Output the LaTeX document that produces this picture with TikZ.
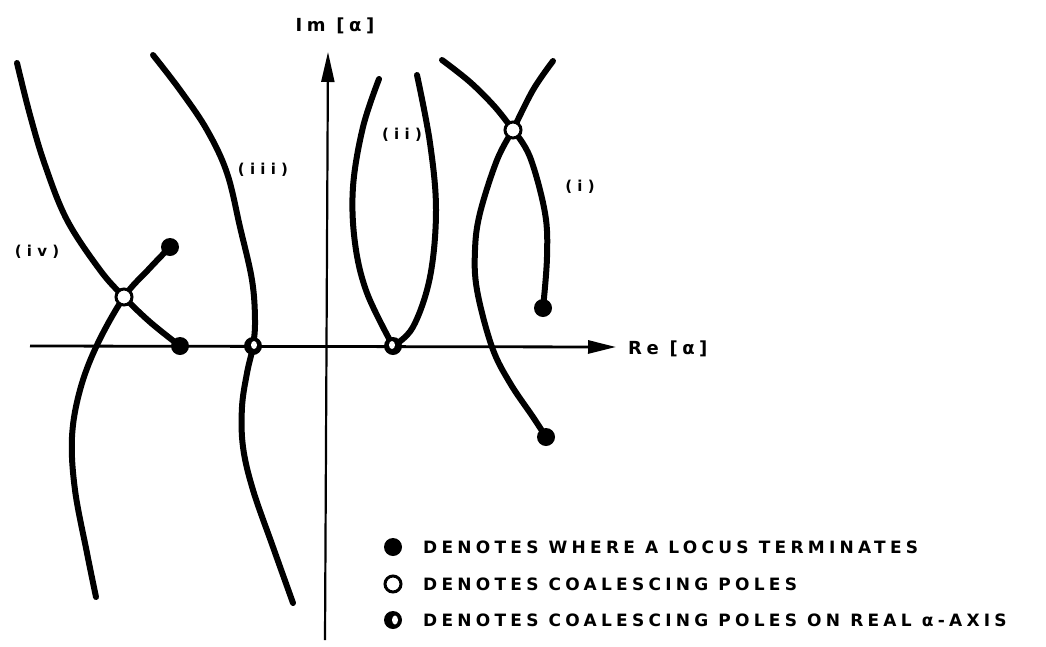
\documentclass[tikz,border=0pt]{standalone}
\usepackage{fontspec}
\setmainfont{DejaVu Sans}
\newfontfamily\lblfont{DejaVu Sans}[LetterSpace=25]
\newfontfamily\romfont{DejaVu Sans}[LetterSpace=35]
\usetikzlibrary{arrows.meta}
\begin{document}
\begin{tikzpicture}[x=1pt,y=-1pt,
  curve/.style={line width=6pt, line cap=round, line join=round},
  axisline/.style={line width=2.8pt},
  termdot/.style={circle, fill=black, inner sep=0pt, minimum size=18pt},
  coaldot/.style={circle, draw=black, line width=3pt, fill=white, inner sep=0pt, minimum width=16pt, minimum height=14pt},
  legtext/.style={anchor=west, inner sep=0pt, font=\lblfont\bfseries\fontsize{17}{20}\selectfont},
  romlabel/.style={inner sep=0pt, font=\romfont\bfseries\fontsize{15}{18}\selectfont},
  axlabel/.style={inner sep=0pt, font=\lblfont\bfseries\fontsize{18}{21}\selectfont}]
\useasboundingbox (0,0) rectangle (1046,646);

% axes
\coordinate (reS) at (30,346);
\coordinate (reE) at (616,347);
\coordinate (imS) at (325,640);
\coordinate (imE) at (328,52);
\draw[axisline, -{Triangle[length=28pt,width=13pt]}] (reS) -- (reE);
\draw[line width=2.2pt, -{Triangle[length=30pt,width=13pt]}] (imS) -- (imE);
\node[axlabel, anchor=west] (relab) at (628,349) {Re [α]};
\node[axlabel] (imlab) at (335,26) {Im [α]};

% key points
\coordinate (c4) at (124,297);
\coordinate (t4a) at (170,247);
\coordinate (t4b) at (180,346);
\coordinate (h3) at (253,346);
\coordinate (h2) at (393,346);
\coordinate (c1) at (513,130);
\coordinate (t1a) at (543,308);
\coordinate (t1b) at (546,437);

% locus (iv)
\draw[curve] plot[smooth, tension=0.6] coordinates {(17,63) (30,115) (45,165) (67,220) (100,270) (c4) (150,322) (t4b)};
\draw[curve] plot[smooth, tension=0.6] coordinates {(t4a) (148,270) (c4) (97,345) (80,390) (72,437) (75,490) (87,553) (96,597)};
% locus (iii)
\draw[curve] plot[smooth, tension=0.6] coordinates {(153,55) (180,90) (207,130) (227,173) (240,227) (252,280) (255,320) (h3) (247,373) (242,407) (243,447) (253,490) (273,547) (293,603)};
% locus (ii)
\draw[curve] plot[smooth, tension=0.6] coordinates {(379,79) (363,127) (353,187) (355,243) (367,293) (h2)};
\draw[curve] plot[smooth, tension=0.6] coordinates {(417,75) (430,143) (436,210) (430,277) (413,327) (h2)};
% locus (i)
\draw[curve] plot[smooth, tension=0.6] coordinates {(442,60) (470,82) (495,107) (c1)};
\draw[curve] plot[smooth, tension=0.6] coordinates {(553,61) (533,90) (c1)};
\draw[curve] plot[smooth, tension=0.6] coordinates {(c1) (530,157) (545,213) (547,257) (t1a)};
\draw[curve] plot[smooth, tension=0.6] coordinates {(c1) (497,160) (480,213) (475,250) (477,290) (492,347) (510,383) (533,417) (t1b)};

% markers
\node[coaldot] (n-c4) at (c4) {};
\node[coaldot] (n-c1) at (c1) {};
\node[termdot] (n-t4a) at (t4a) {};
\node[termdot] (n-t4b) at (t4b) {};
\node[termdot] (n-t1a) at (t1a) {};
\node[termdot] (n-t1b) at (t1b) {};
\node[termdot] (n-h3) at (h3) {};
\fill[white] ([xshift=1pt,yshift=1pt]h3) ellipse (3pt and 4pt);
\node[termdot] (n-h2) at (h2) {};
\fill[white] ([xshift=-1pt,yshift=1pt]h2) ellipse (3pt and 4pt);

% locus labels
\node[romlabel] (l4) at (37,252) {(iv)};
\node[romlabel] (l3) at (263,170) {(iii)};
\node[romlabel] (l2) at (402,135) {(ii)};
\node[romlabel] (l1) at (580,187) {(i)};

% legend
\node[termdot] (leg1) at (393,547) {};
\node[coaldot] (leg2) at (393,584) {};
\node[termdot] (leg3) at (393,620) {};
\fill[white] ([xshift=2pt]leg3.center) ellipse (3pt and 4.5pt);
\node[legtext] (legt1) at (423,547) {DENOTES WHERE A LOCUS TERMINATES};
\node[legtext] (legt2) at (423,584) {DENOTES COALESCING POLES};
\node[legtext] (legt3) at (423,620) {DENOTES COALESCING POLES ON REAL α-AXIS};
\end{tikzpicture}
\end{document}
